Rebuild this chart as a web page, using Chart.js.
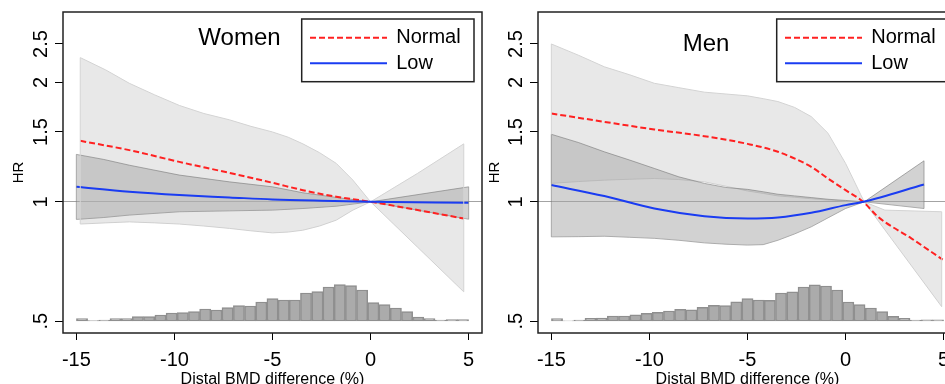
<!DOCTYPE html>
<html>
<head>
<meta charset="utf-8">
<title>HR by distal BMD difference</title>
<script src="https://cdn.jsdelivr.net/npm/chart.js@4.4.1/dist/chart.umd.min.js"></script>
<style>
  html, body { margin: 0; padding: 0; background: #fff; overflow: hidden; }
  #wrap { position: relative; width: 945px; height: 384px; overflow: hidden; }
  #women { position: absolute; left: 0; top: 0; }
  #men { position: absolute; left: 470px; top: 0; }
</style>
</head>
<body>
<div id="wrap">
  <canvas id="women" width="486" height="384"></canvas>
  <canvas id="men" width="490" height="384"></canvas>
</div>

<script>
/* ---- DATA ---- */
const xTicks = [-15, -10, -5, 0, 5];
const hrTicks = [0.5, 1, 1.5, 2, 2.5];
const hrTickLabels = ['.5', '1', '1.5', '2', '2.5'];
const seriesNames = ['Normal', 'Low'];
const xTitle = 'Distal BMD difference (%)';

// histogram of BMD difference (% of participants per bin)
const binCenters = [-14.71, -14.14, -13.57, -13.00, -12.43, -11.86, -11.29, -10.71, -10.14, -9.57,
  -9.00, -8.43, -7.86, -7.29, -6.71, -6.14, -5.57, -5.00, -4.43, -3.86,
  -3.29, -2.71, -2.14, -1.57, -1.00, -0.43, 0.14, 0.71, 1.29, 1.86,
  2.43, 3.00, 3.57, 4.14, 4.71];
const womenHist = [0.52, 0.08, 0.21, 0.52, 0.52, 0.94, 0.94, 1.25, 1.67, 1.77,
  1.98, 2.50, 2.29, 2.81, 3.23, 3.13, 3.96, 4.69, 4.38, 4.38,
  5.83, 6.15, 7.08, 7.60, 7.40, 6.46, 3.85, 3.44, 2.71, 1.98,
  0.83, 0.52, 0.21, 0.31, 0.31];
const menHist = [0.48, 0.06, 0.21, 0.56, 0.63, 1.04, 1.04, 1.31, 1.60, 1.81,
  2.08, 2.44, 2.35, 2.85, 3.27, 3.19, 4.02, 4.65, 4.38, 4.31,
  5.83, 6.10, 7.08, 7.56, 7.29, 6.46, 3.96, 3.40, 2.71, 1.94,
  0.98, 0.56, 0.21, 0.27, 0.27];

// Women
const womenLightX = [-14.8, -13.5, -12.3, -11.0, -9.75, -8.5, -7.2, -6.1, -5.0, -4.2, -3.45, -2.6, -1.75, -0.9, 0, 2.4, 4.75];
const womenLightUpper = [2.31, 2.15, 1.99, 1.86, 1.75, 1.67, 1.61, 1.55, 1.50, 1.455, 1.40, 1.33, 1.25, 1.134, 1.0, 1.18, 1.40];
const womenLightLower = [0.879, 0.885, 0.89, 0.885, 0.879, 0.869, 0.857, 0.845, 0.835, 0.839, 0.848, 0.869, 0.899, 0.953, 1.0, 0.768, 0.593];
const womenDarkX = [-15, -13.6, -12.3, -9.75, -7.2, -5.0, -3.45, -1.75, 0, 5];
const womenDarkUpper = [1.317, 1.279, 1.237, 1.168, 1.123, 1.091, 1.054, 1.026, 1.0, 1.091];
const womenDarkLower = [0.903, 0.913, 0.926, 0.944, 0.949, 0.953, 0.962, 0.975, 1.0, 0.904];
const womenNormalX = [-14.8, -12.3, -9.75, -7.2, -5.0, -3.45, -1.75, 0, 4.75];
const womenNormal = [1.425, 1.35, 1.261, 1.183, 1.117, 1.07, 1.03, 1.0, 0.908];
const womenLowX = [-15, -12.3, -9.75, -7.2, -5.0, -2.5, 0, 5];
const womenLow = [1.091, 1.06, 1.04, 1.026, 1.014, 1.006, 1.0, 0.994];

// Men
const menLightX = [-15, -13.6, -12.3, -11.0, -9.75, -8.5, -7.2, -6.1, -5.0, -4.2, -3.45, -2.6, -1.75, -0.9, 0, 0.95, 2.0, 4.9];
const menLightUpper = [2.50, 2.34, 2.19, 2.09, 1.99, 1.94, 1.89, 1.87, 1.85, 1.82, 1.79, 1.73, 1.64, 1.49, 1.25, 1.0, 0.953, 0.944];
const menLightLower = [1.113, 1.125, 1.134, 1.14, 1.145, 1.138, 1.123, 1.095, 1.065, 1.05, 1.035, 1.027, 1.018, 1.01, 1.005, 1.0, 0.85, 0.544];
const menDarkX = [-15, -13.6, -12.3, -11.0, -9.75, -8.5, -7.2, -6.1, -5.0, -4.2, -3.45, -2.6, -1.75, -0.9, 0, 0.95, 4.0];
const menDarkUpper = [1.48, 1.41, 1.337, 1.274, 1.214, 1.156, 1.113, 1.087, 1.075, 1.06, 1.045, 1.035, 1.025, 1.015, 1.008, 1.0, 1.269];
const menDarkLower = [0.816, 0.817, 0.819, 0.814, 0.809, 0.80, 0.788, 0.782, 0.778, 0.78, 0.80, 0.83, 0.865, 0.911, 0.962, 1.0, 0.962];
const menNormalX = [-15, -12.3, -9.75, -7.2, -5.0, -3.45, -1.75, -0.9, 0, 0.9, 1.65, 3.35, 4.95];
const menNormal = [1.67, 1.591, 1.522, 1.464, 1.40, 1.337, 1.225, 1.145, 1.07, 1.0, 0.917, 0.809, 0.715];
const menLowX = [-15, -12.3, -9.75, -7.2, -5.0, -3.45, -1.75, 0, 0.9, 4.0];
const menLow = [1.102, 1.034, 0.962, 0.920, 0.908, 0.913, 0.938, 0.981, 1.0, 1.106];

/* ---- STYLE ---- */
const FONT = '"Liberation Sans", Arial, Helvetica, sans-serif';
const RED = '#ff2121';
const BLUE = '#1a3cf2';
const LIGHT_FILL = 'rgba(200,200,200,0.42)';
const LIGHT_EDGE = '#d3d3d3';
const DARK_FILL = 'rgba(165,165,165,0.5)';
const DARK_EDGE = 'rgba(120,120,120,0.6)';

const pts = (xs, ys) => xs.map((x, i) => ({ x: x, y: ys[i] }));

/* ---- FRAME, ROTATED LABELS, TITLE, LEGEND ---- */
const panelDecor = {
  id: 'panelDecor',
  afterDatasetsDraw(chart, args, o) {
    // close the confidence bands at both ends, like the original
    const { ctx, scales } = chart;
    ctx.save();
    ctx.lineWidth = 1;
    o.bands.forEach(b => {
      ctx.strokeStyle = b.edge;
      [0, b.x.length - 1].forEach(i => {
        const px = scales.x.getPixelForValue(b.x[i]);
        ctx.beginPath();
        ctx.moveTo(px, scales.y.getPixelForValue(b.upper[i]));
        ctx.lineTo(px, scales.y.getPixelForValue(b.lower[i]));
        ctx.stroke();
      });
    });
    ctx.restore();
  },
  afterDraw(chart, args, o) {
    const { ctx, chartArea: a, scales } = chart;
    ctx.save();

    // plot frame
    ctx.strokeStyle = '#222';
    ctx.lineWidth = 1.5;
    ctx.strokeRect(a.left, a.top, a.right - a.left, a.bottom - a.top);

    // y tick labels, rotated like the original
    ctx.fillStyle = '#000';
    ctx.font = '20px ' + FONT;
    ctx.textAlign = 'center';
    ctx.textBaseline = 'middle';
    hrTicks.forEach((v, i) => {
      const y = scales.y.getPixelForValue(v);
      ctx.save();
      ctx.translate(a.left - 22, y);
      ctx.rotate(-Math.PI / 2);
      ctx.fillText(hrTickLabels[i], 0, 0);
      ctx.restore();
    });

    // panel title
    ctx.font = '24px ' + FONT;
    ctx.fillText(o.title, a.left + o.titleDx, o.titleY);

    // legend box
    const bx = a.left + 238.7, by = 19, bw = 172.3, bh = 62.7;
    ctx.fillStyle = '#fff';
    ctx.fillRect(bx, by, bw, bh);
    ctx.strokeStyle = '#222';
    ctx.lineWidth = 1.5;
    ctx.strokeRect(bx, by, bw, bh);

    const rows = [
      { y: by + 18.7, color: RED, dash: [6, 3], text: seriesNames[0] },
      { y: by + 44.3, color: BLUE, dash: [], text: seriesNames[1] }
    ];
    rows.forEach(r => {
      ctx.beginPath();
      ctx.setLineDash(r.dash);
      ctx.strokeStyle = r.color;
      ctx.lineWidth = 2;
      ctx.moveTo(bx + 8.3, r.y);
      ctx.lineTo(bx + 85.3, r.y);
      ctx.stroke();
      ctx.setLineDash([]);
      ctx.fillStyle = '#000';
      ctx.font = '20px ' + FONT;
      ctx.textAlign = 'left';
      ctx.textBaseline = 'middle';
      ctx.fillText(r.text, bx + 94.5, r.y);
    });

    ctx.restore();
  }
};

function makePanel(id, p) {
  const band = (data, fill, bg, edge, order) => ({
    data: data, fill: fill, backgroundColor: bg, borderColor: edge,
    borderWidth: 1, pointRadius: 0, tension: 0, order: order
  });

  return new Chart(document.getElementById(id), {
    type: 'line',
    data: {
      datasets: [
        {
          type: 'bar', label: 'hist', data: pts(binCenters, p.hist), yAxisID: 'yh',
          backgroundColor: '#ababab', borderColor: '#8f8f8f', borderWidth: 1.5,
          borderSkipped: false, barPercentage: 1, categoryPercentage: 1, grouped: false, order: 6
        },
        band(pts(p.lightX, p.lightUpper), '+1', LIGHT_FILL, LIGHT_EDGE, 5),
        band(pts(p.lightX, p.lightLower), false, LIGHT_FILL, LIGHT_EDGE, 5),
        band(pts(p.darkX, p.darkUpper), '+1', DARK_FILL, DARK_EDGE, 4),
        band(pts(p.darkX, p.darkLower), false, DARK_FILL, DARK_EDGE, 4),
        {
          label: seriesNames[0], data: pts(p.normalX, p.normal), borderColor: RED,
          borderDash: [6, 3], borderWidth: 2, pointRadius: 0, fill: false,
          cubicInterpolationMode: 'monotone', order: 1
        },
        {
          label: seriesNames[1], data: pts(p.lowX, p.low), borderColor: BLUE,
          borderWidth: 2, pointRadius: 0, fill: false,
          cubicInterpolationMode: 'monotone', order: 0
        }
      ]
    },
    options: {
      responsive: false,
      animation: false,
      events: [],
      layout: { padding: { top: 12, right: p.padRight, bottom: 0, left: 0 } },
      plugins: {
        legend: { display: false },
        tooltip: { enabled: false },
        panelDecor: {
          title: p.title, titleDx: p.titleDx, titleY: p.titleY,
          bands: [
            { x: p.lightX, upper: p.lightUpper, lower: p.lightLower, edge: LIGHT_EDGE },
            { x: p.darkX, upper: p.darkUpper, lower: p.darkLower, edge: DARK_EDGE }
          ]
        }
      },
      scales: {
        x: {
          type: 'linear', min: -15.68, max: 5.68, offset: false,
          afterBuildTicks: s => { s.ticks = xTicks.map(v => ({ value: v })); },
          afterFit: s => { s.height = 51; },
          ticks: {
            font: { family: FONT, size: 20 }, color: '#000', padding: 8,
            maxRotation: 0, autoSkip: false, callback: v => String(v)
          },
          grid: { offset: false, drawOnChartArea: false, tickLength: 7, tickColor: '#000', tickWidth: 1 },
          border: { display: false },
          title: {
            display: true, text: xTitle, color: '#000',
            font: { family: FONT, size: 16, lineHeight: 1 },
            padding: { top: 0, bottom: -4 }
          }
        },
        y: {
          type: 'logarithmic', min: 0.467, max: 3.01,
          afterBuildTicks: s => { s.ticks = hrTicks.map(v => ({ value: v })); },
          afterFit: s => { s.width = p.axisW; },
          ticks: { display: false },
          grid: {
            color: c => (c.tick && c.tick.value === 1 ? '#a3a3a3' : 'rgba(0,0,0,0)'),
            tickColor: '#000', tickLength: 8, lineWidth: 1, tickWidth: 1
          },
          border: { display: false },
          title: {
            display: true, text: 'HR', color: '#000',
            font: { family: FONT, size: 15 },
            padding: { top: p.hrPad, bottom: 0 }
          }
        },
        yh: { type: 'linear', display: false, min: -2.5, max: 64.4 }
      }
    },
    plugins: [panelDecor]
  });
}

makePanel('women', {
  title: 'Women', titleDx: 176.5, titleY: 38.5, axisW: 63, hrPad: 10, padRight: 4,
  hist: womenHist,
  lightX: womenLightX, lightUpper: womenLightUpper, lightLower: womenLightLower,
  darkX: womenDarkX, darkUpper: womenDarkUpper, darkLower: womenDarkLower,
  normalX: womenNormalX, normal: womenNormal, lowX: womenLowX, low: womenLow
});

makePanel('men', {
  title: 'Men', titleDx: 168, titleY: 44.7, axisW: 68, hrPad: 16, padRight: 3,
  hist: menHist,
  lightX: menLightX, lightUpper: menLightUpper, lightLower: menLightLower,
  darkX: menDarkX, darkUpper: menDarkUpper, darkLower: menDarkLower,
  normalX: menNormalX, normal: menNormal, lowX: menLowX, low: menLow
});
</script>
</body>
</html>
